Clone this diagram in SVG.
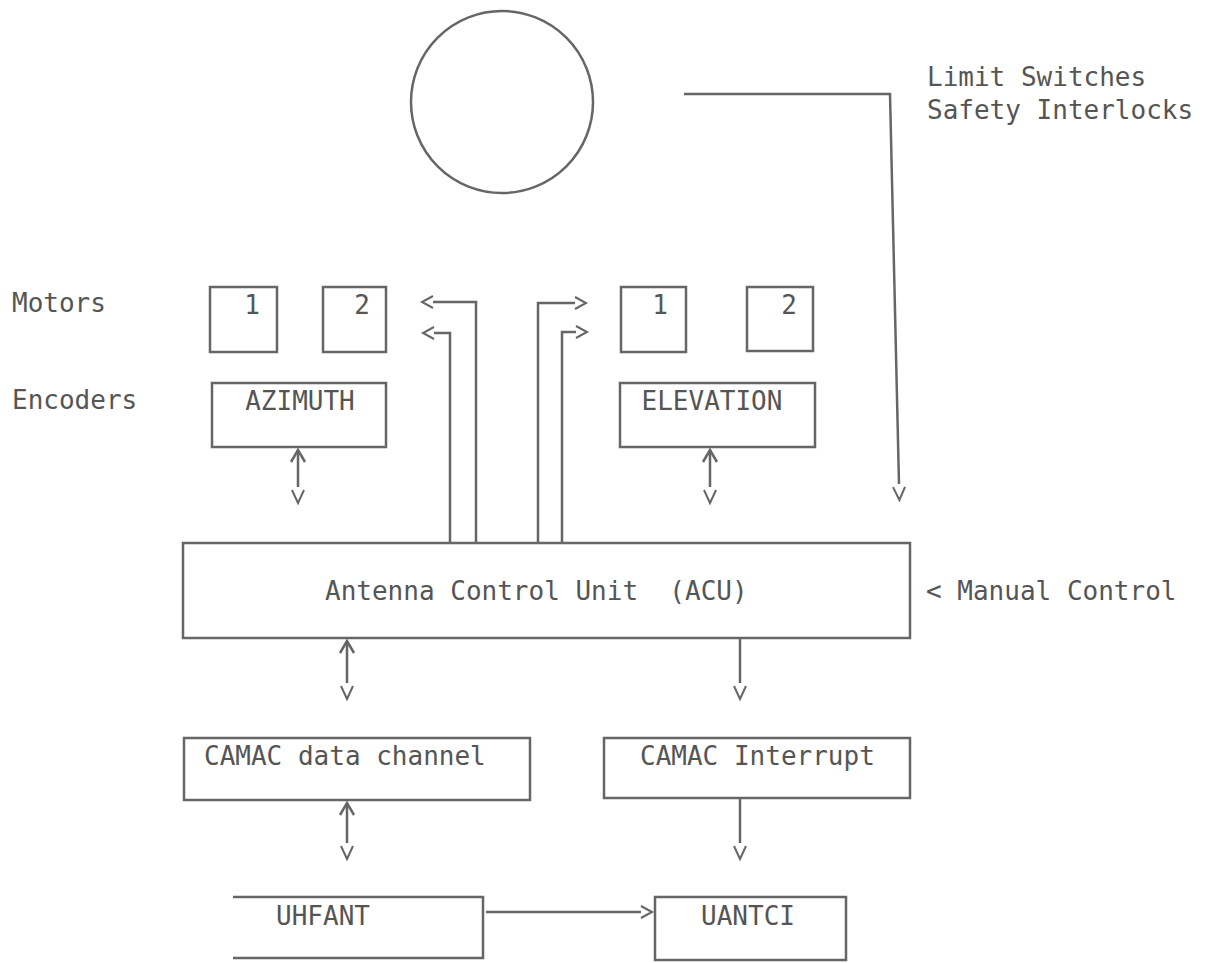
<svg xmlns="http://www.w3.org/2000/svg" width="1209" height="963" viewBox="0 0 1209 963">
<defs>
<style>
.box{fill:none;stroke:#666;stroke-width:2.5}
.ln{fill:none;stroke:#666;stroke-width:2.5}
.t{font-family:"DejaVu Sans Mono","Liberation Mono",monospace;font-size:26px;fill:#555;white-space:pre}
.tm{text-anchor:middle}
</style>
<marker id="head" markerUnits="userSpaceOnUse" markerWidth="20" markerHeight="20" refX="0" refY="0" orient="auto" overflow="visible">
<path d="M0,-6 L11,0 L0,6" fill="none" stroke="#666" stroke-width="2"/>
</marker>
<marker id="vgap" markerUnits="userSpaceOnUse" markerWidth="20" markerHeight="20" refX="-3" refY="0" orient="auto" overflow="visible">
<path d="M0,-6 L13,0 L0,6" fill="none" stroke="#666" stroke-width="2"/>
</marker>
<marker id="up" markerUnits="userSpaceOnUse" markerWidth="20" markerHeight="20" refX="12" refY="0" orient="auto-start-reverse" overflow="visible">
<path d="M0,-7 L12,0 L0,7" fill="none" stroke="#666" stroke-width="2.5"/>
</marker>
</defs>
<rect width="1209" height="963" fill="#fff"/>

<g id="antenna">
<circle cx="502" cy="102" r="91" class="box"/>
</g>

<g id="labels">
<text class="t" x="927" y="86">Limit Switches</text>
<text class="t" x="927" y="119">Safety Interlocks</text>
<text class="t" x="12" y="312">Motors</text>
<text class="t" x="12" y="409">Encoders</text>
<text class="t" x="926" y="600">&lt; Manual Control</text>
</g>

<g id="az-motor-1">
<rect x="210" y="287" width="67" height="65" class="box"/>
<text class="t tm" x="252" y="314">1</text>
</g>
<g id="az-motor-2">
<rect x="323" y="287" width="63" height="65" class="box"/>
<text class="t tm" x="362" y="314">2</text>
</g>
<g id="el-motor-1">
<rect x="621" y="287" width="65" height="65" class="box"/>
<text class="t tm" x="660" y="314">1</text>
</g>
<g id="el-motor-2">
<rect x="747" y="287" width="66" height="64" class="box"/>
<text class="t tm" x="789" y="314">2</text>
</g>

<g id="azimuth">
<rect x="212" y="383" width="174" height="64" class="box"/>
<text class="t tm" x="300" y="410">AZIMUTH</text>
</g>
<g id="elevation">
<rect x="620" y="383" width="195" height="64" class="box"/>
<text class="t tm" x="712" y="410">ELEVATION</text>
</g>

<g id="acu">
<rect x="183" y="543" width="727" height="95" class="box"/>
<text class="t" x="325" y="600" xml:space="preserve">Antenna Control Unit  (ACU)</text>
</g>

<g id="camac-data">
<rect x="184" y="738" width="346" height="62" class="box"/>
<text class="t" x="204" y="765">CAMAC data channel</text>
</g>
<g id="camac-int">
<rect x="604" y="738" width="306" height="60" class="box"/>
<text class="t" x="640" y="765">CAMAC Interrupt</text>
</g>

<g id="uhfant">
<path d="M233,897 L483,897 L483,958 L233,958" class="box"/>
<text class="t tm" x="323" y="925">UHFANT</text>
</g>
<g id="uantci">
<rect x="655" y="897" width="191" height="63" class="box"/>
<text class="t tm" x="748" y="925">UANTCI</text>
</g>

<g id="connectors">
<path d="M684,94 L890,94 L899,484" class="ln" marker-end="url(#vgap)"/>
<path d="M476,543 L476,302 L433,302" class="ln" marker-end="url(#head)"/>
<path d="M450,543 L450,333 L434,333" class="ln" marker-end="url(#head)"/>
<path d="M538,543 L538,303 L575,303" class="ln" marker-end="url(#head)"/>
<path d="M562,543 L562,332 L576,332" class="ln" marker-end="url(#head)"/>
<path d="M298,450 L298,487" class="ln" marker-start="url(#up)" marker-end="url(#vgap)"/>
<path d="M710,450 L710,487" class="ln" marker-start="url(#up)" marker-end="url(#vgap)"/>
<path d="M347,641 L347,683" class="ln" marker-start="url(#up)" marker-end="url(#vgap)"/>
<path d="M740,638 L740,683" class="ln" marker-end="url(#vgap)"/>
<path d="M347,803 L347,843" class="ln" marker-start="url(#up)" marker-end="url(#vgap)"/>
<path d="M740,798 L740,843" class="ln" marker-end="url(#vgap)"/>
<path d="M486,912 L641,912" class="ln" marker-end="url(#head)"/>
</g>
</svg>
